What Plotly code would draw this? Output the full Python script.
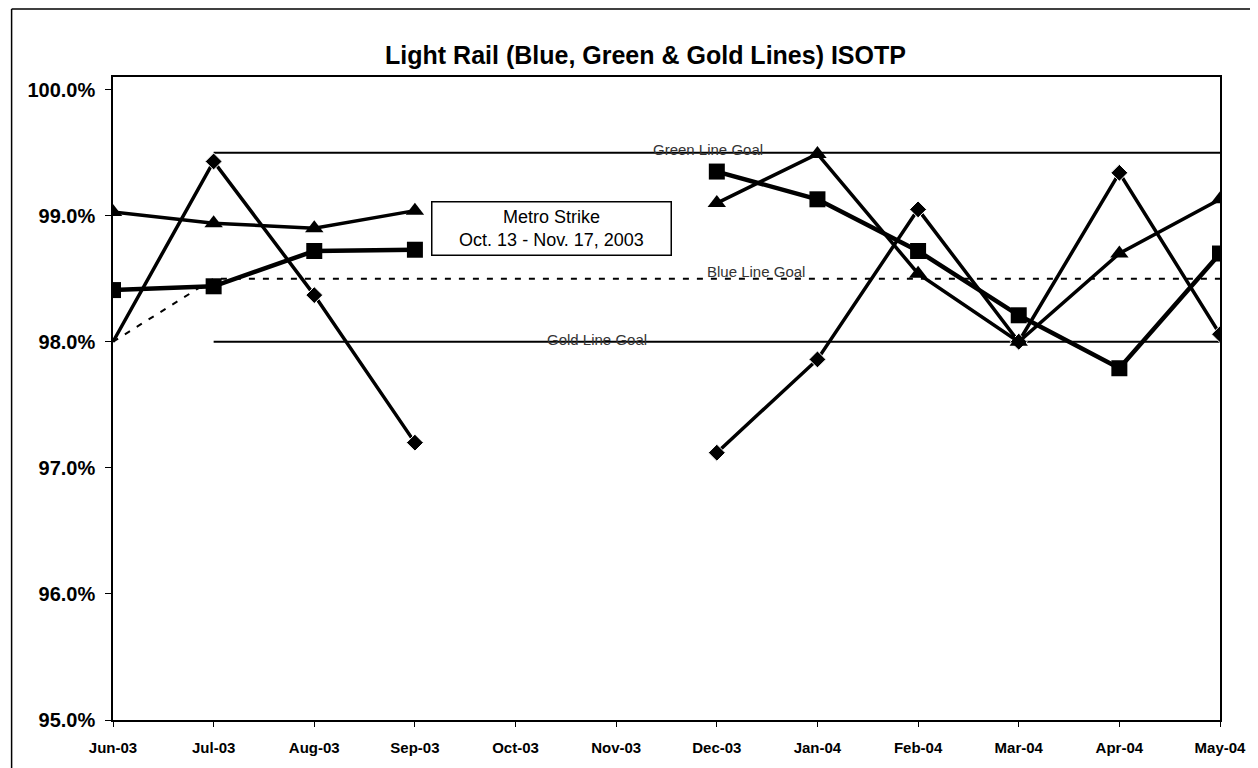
import plotly.graph_objects as go

months = ["Jun-03", "Jul-03", "Aug-03", "Sep-03", "Oct-03", "Nov-03",
          "Dec-03", "Jan-04", "Feb-04", "Mar-04", "Apr-04", "May-04"]

# actual ISOTP by line (percent); Oct/Nov missing because of the strike
diamond_vals = [98.0, 99.43, 98.37, 97.20, None, None, 97.12, 97.86, 99.05, 98.0, 99.34, 98.06]
square_vals = [98.41, 98.44, 98.72, 98.73, None, None, 99.35, 99.13, 98.72, 98.21, 97.79, 98.70]
triangle_vals = [99.03, 98.94, 98.90, 99.04, None, None, 99.10, 99.49, 98.54, 98.0, 98.70, 99.13]

# goals
green_goal = [None, 99.5, 99.5, 99.5, 99.5, 99.5, 99.5, 99.5, 99.5, 99.5, 99.5, 99.5]
blue_goal = [98.0, 98.5, 98.5, 98.5, 98.5, 98.5, 98.5, 98.5, 98.5, 98.5, 98.5, 98.5]
gold_goal = [None, 98.0, 98.0, 98.0, 98.0, 98.0, 98.0, 98.0, 98.0, 98.0, 98.0, 98.0]

y_ticks = [95, 96, 97, 98, 99, 100]

x = list(range(len(months)))

fig = go.Figure()

fig.add_trace(go.Scatter(x=x, y=green_goal, mode="lines",
                         line=dict(color="black", width=2)))
fig.add_trace(go.Scatter(x=x, y=blue_goal, mode="lines",
                         line=dict(color="black", width=2, dash="6px,8px")))
fig.add_trace(go.Scatter(x=x, y=gold_goal, mode="lines",
                         line=dict(color="black", width=2)))

fig.add_trace(go.Scatter(x=x, y=diamond_vals, mode="lines+markers",
                         line=dict(color="black", width=3.5),
                         marker=dict(symbol="diamond", size=[0] + [13] * 11,
                                     color="black", opacity=1)))
fig.add_trace(go.Scatter(x=x, y=square_vals, mode="lines+markers",
                         line=dict(color="black", width=4.5),
                         marker=dict(symbol="square", size=16, color="black")))
fig.add_trace(go.Scatter(x=x, y=triangle_vals, mode="lines+markers",
                         line=dict(color="black", width=3.5),
                         marker=dict(symbol="triangle-up", size=16, color="black")))

goal_font = dict(family="Liberation Sans", size=15, color="#333")
fig.add_annotation(x=5.91, y=99.5, text="Green Line Goal", showarrow=False,
                   yanchor="middle", yshift=3, font=goal_font)
fig.add_annotation(x=6.39, y=98.5, text="Blue Line Goal", showarrow=False,
                   yanchor="middle", yshift=7, font=goal_font)
fig.add_annotation(x=4.81, y=98.0, text="Gold Line Goal", showarrow=False,
                   yanchor="middle", yshift=2, font=goal_font)

fig.add_annotation(x=4.36, y=98.9, text="Metro Strike<br>Oct. 13 - Nov. 17, 2003",
                   showarrow=False, bordercolor="black", borderwidth=1.5,
                   bgcolor="white", borderpad=2, width=234, height=48,
                   font=dict(family="Liberation Sans", size=18, color="black"))

# outer chart border (left and top edges only, rest is cropped in the scan)
fig.add_shape(type="line", xref="paper", yref="paper",
              x0=-0.0916, x1=-0.0916, y0=-0.08, y1=1.1057,
              line=dict(color="black", width=1.5))
fig.add_shape(type="line", xref="paper", yref="paper",
              x0=-0.0916, x1=1.03, y0=1.1057, y1=1.1057,
              line=dict(color="black", width=1.5))

fig.update_layout(
    width=1250, height=760,
    paper_bgcolor="white", plot_bgcolor="white",
    showlegend=False,
    margin=dict(l=105, r=32, t=69, b=48),
    title=dict(text="<b>Light Rail (Blue, Green & Gold Lines) ISOTP</b>",
               x=0.51, xanchor="center", y=0.938, yanchor="middle",
               font=dict(family="Liberation Sans", size=25, color="black")),
)

fig.update_xaxes(
    range=[0, 11], tickmode="array", tickvals=x,
    ticktext=["<b>%s</b>" % m for m in months],
    showgrid=False, zeroline=False,
    showline=True, linecolor="black", linewidth=1.5, mirror=True,
    ticks="outside", ticklen=5, tickcolor="black",
    ticklabelstandoff=8,
    tickfont=dict(family="Liberation Sans", size=15, color="black"),
)
fig.update_yaxes(
    range=[95, 100.1], tickmode="array", tickvals=y_ticks,
    ticktext=["<b>%.1f%%</b>" % v for v in y_ticks],
    showgrid=False, zeroline=False,
    showline=True, linecolor="black", linewidth=1.5, mirror=True,
    ticks="outside", ticklen=6, tickcolor="black",
    ticklabelstandoff=6,
    tickfont=dict(family="Liberation Sans", size=20, color="black"),
)

fig.write_html("out.html")
